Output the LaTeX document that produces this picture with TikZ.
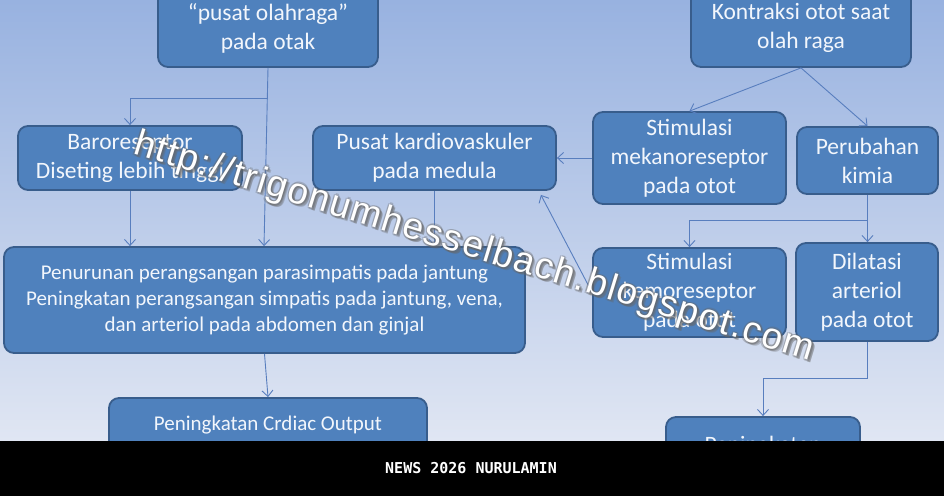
\documentclass[tikz,border=0pt]{standalone}
\usepackage{fontspec}
\setmainfont{Carlito}
\newfontfamily\wmfont[LetterSpace=4]{Liberation Sans}
\setmonofont{DejaVu Sans Mono}
\usetikzlibrary{calc}
\usetikzlibrary{arrows.meta}
\usepackage{xcolor}

\definecolor{kotakbiru}{RGB}{79,129,189}
\definecolor{tepibiru}{RGB}{56,93,140}
\definecolor{garisbiru}{RGB}{88,126,190}
\definecolor{lataratas}{RGB}{152,178,224}
\definecolor{latarbawah}{RGB}{224,230,243}
\definecolor{teksputih}{RGB}{242,246,252}

\tikzset{
 kotak/.style={draw=tepibiru, fill=kotakbiru, line width=1.8pt, rounded corners=10pt,
   text=teksputih, align=center, inner sep=0pt, font=\fontsize{23.5}{29}\selectfont},
 kecil/.style={font=\fontsize{21}{26}\selectfont},
 panah/.style={garisbiru, line width=0.9pt, -{Straight Barb[length=6pt,width=11pt]}},
}

\begin{document}
\begin{tikzpicture}[x=1pt,y=-1pt]
\useasboundingbox (0,0) rectangle (944,496);
\clip (0,0) rectangle (944,496);
\shade[top color=lataratas, bottom color=latarbawah] (0,0) rectangle (944,441);

% kotak-kotak
\node[kotak, minimum width=220, minimum height=78] (olahraga) at (268,28) {“pusat olahraga”\\pada otak};
\node[kotak, minimum width=220, minimum height=78] (kontraksi) at (801,28) {Kontraksi otot saat\\olah raga};
\node[kotak, minimum width=224, minimum height=64] (baro) at (130,158) {Baroreseptor\\Diseting lebih tinggi};
\node[kotak, minimum width=243, minimum height=64] (kardio) at (434.5,158) {Pusat kardiovaskuler\\pada medula};
\node[kotak, minimum width=193, minimum height=92] (mekano) at (689.5,158) {Stimulasi\\mekanoreseptor\\pada otot};
\node[kotak, minimum width=141, minimum height=67] (kimia) at (867.5,160.5) {Perubahan\\kimia};
\node[kotak, kecil, minimum width=521, minimum height=106] (penurunan) at (264.5,300) {Penurunan perangsangan parasimpatis pada jantung\\Peningkatan perangsangan simpatis pada jantung, vena,\\dan arteriol pada abdomen dan ginjal};
\node[kotak, minimum width=193, minimum height=89] (kemo) at (689.5,292.5) {Stimulasi\\kemoreseptor\\pada otot};
\node[kotak, minimum width=142, minimum height=98] (dilatasi) at (867,292) {Dilatasi\\arteriol\\pada otot};
\node[kotak, kecil, minimum width=318, minimum height=54] (cardiac) at (268,425) {Peningkatan Crdiac Output};
\node[kotak, minimum width=194, minimum height=58] (naik) at (763,446) {Peningkatan};

% panah
\coordinate (cabang1) at ($(olahraga.south)+(0,31)$);
\coordinate (cabang2) at ($(kimia.south)+(0,26)$);
\coordinate (cabang3) at ($(dilatasi.south)+(0,37)$);
\draw[panah] (olahraga.south) -- ([xshift=-4pt]olahraga.south |- penurunan.north);
\draw[panah] (cabang1) -| (baro.north);
\draw[panah] (baro.south) -- (baro.south |- penurunan.north);
\draw[panah] (kardio.south) -- (kardio.south |- penurunan.north);
\draw[panah] (kontraksi.south) -- (mekano.north);
\draw[panah] (kontraksi.south) -- (kimia.north);
\draw[panah] (mekano.west) -- (kardio.east);
\draw[panah] (kimia.south) -- (kimia.south |- dilatasi.north);
\draw[panah] (cabang2) -| (kemo.north);
\draw[panah] (kemo.west) -- ([xshift=-16pt,yshift=-4pt]kardio.south east);
\draw[panah] (penurunan.south) -- (cardiac.north);
\draw[panah] (dilatasi.south) -- (cabang3) -| (naik.north);

% tanda air
\foreach \dx/\dy [count=\i] in {1.5/1.5,-1.5/1,1/-1.5,2.5/2.5,0/2,2/0,-1/-1,3/3}
 \node[text=black!60, opacity=.3, rotate=-17, font=\wmfont\fontsize{37}{37}\selectfont] (bayang\i) at ($(474,248)+(\dx,\dy)$) {http://trigonumhesselbach.blogspot.com};
\node[text=white, rotate=-17, font=\wmfont\fontsize{37}{37}\selectfont] (tandaair) at (474,248) {http://trigonumhesselbach.blogspot.com};

% pita hitam
\fill[black] (0,441) rectangle (944,496);
\node[text=white, font=\ttfamily\bfseries\fontsize{15}{15}\selectfont] (judul) at (471,468) {NEWS 2026 NURULAMIN};
\end{tikzpicture}
\end{document}
